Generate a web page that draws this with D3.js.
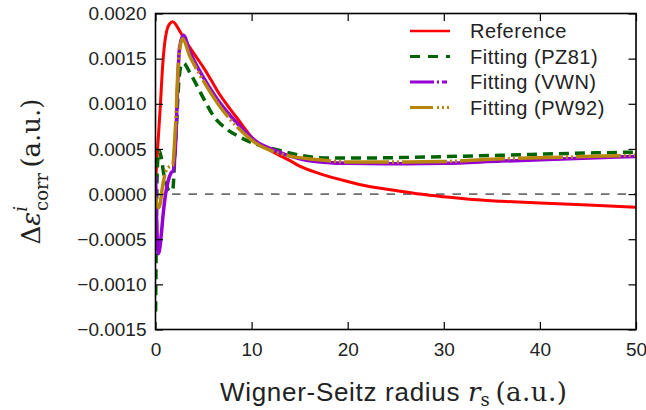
<!DOCTYPE html>
<html>
<head>
<meta charset="utf-8">
<script src="https://cdn.jsdelivr.net/npm/d3@7"></script>
<style>
    html, body { margin: 0; padding: 0; background: #fff; }
    svg { display: block; }
    .tick text { font-family: "Liberation Sans", Arial, sans-serif; font-size: 19px; fill: #222; }
</style>
</head>
<body>
<div id="chart"></div>
<script>
// data (rs in a.u., value in a.u.)
const refRs   = [0.02, 0.1, 0.2, 0.35, 0.5, 0.7, 0.9, 1.15, 1.5, 1.8, 2.1, 2.55, 3.0, 3.6, 4.3, 5.0, 5.8, 6.7, 7.5, 8.5, 10.2, 12.0, 14.0, 15.0, 17.0, 20.0, 22.0, 25.0, 27.5, 30.0, 33.0, 36.0, 40.0, 45.0, 50.0];
const refVals = [0.00015, 0.0003, 0.00047, 0.00072, 0.00097, 0.00135, 0.00162, 0.0018, 0.00189, 0.00191, 0.00188, 0.0018, 0.00172, 0.00162, 0.00151, 0.0014, 0.00126, 0.0011, 0.00098, 0.00084, 0.00061, 0.00048, 0.00037, 0.00031, 0.00023, 0.00014, 0.00009, 0.00004, 0.0, -0.00003, -0.00006, -0.00008, -0.0001, -0.00012, -0.000145];

const pz81Rs   = [0.01, 0.08, 0.15, 0.25, 0.4, 0.6, 0.9, 1.2, 1.5, 1.8, 2.0, 2.2, 2.4, 2.6, 2.9, 3.6, 5.0, 6.0, 7.4, 8.8, 10.5, 12.3, 15.0, 18.0, 22.0, 28.0, 36.0, 43.0, 50.0];
const pz81Vals = [-0.0013, -0.0005, 0.0001, 0.0004, 0.00048, 0.0004, 0.0002, 0.00008, 0.00003, 0.00005, 0.0004, 0.0008, 0.0012, 0.0014, 0.00145, 0.00134, 0.00106, 0.00087, 0.00072, 0.00063, 0.00055, 0.0005, 0.00043, 0.0004, 0.0004, 0.00041, 0.00043, 0.00045, 0.000465];

const vwnRs   = [0.01, 0.1, 0.2, 0.3, 0.45, 0.6, 0.8, 1.05, 1.33, 1.6, 1.85, 2.0, 2.15, 2.3, 2.5, 2.9, 3.6, 4.3, 5.0, 6.7, 8.45, 10.5, 12.3, 14.0, 16.0, 20.0, 25.0, 30.0, 36.0, 43.0, 50.0];
const vwnVals = [0.0002, -0.0002, -0.00055, -0.00066, -0.0006, -0.00045, -0.00022, 0.0, 0.00015, 0.00023, 0.00026, 0.0004, 0.0007, 0.0012, 0.00162, 0.00176, 0.00157, 0.00142, 0.00129, 0.00101, 0.00079, 0.00058, 0.00049, 0.00042, 0.00037, 0.00034, 0.000335, 0.00034, 0.000365, 0.00039, 0.000417];

const pw92Rs   = [0.01, 0.15, 0.35, 0.5, 0.7, 0.9, 1.1, 1.4, 1.8, 2.0, 2.15, 2.3, 2.5, 2.8, 3.6, 4.3, 5.0, 6.7, 8.45, 10.5, 12.3, 14.0, 17.0, 20.0, 25.0, 30.0, 36.0, 43.0, 50.0];
const pw92Vals = [-0.00003, -0.00012, -0.00015, -0.0001, 0.00006, 0.00018, 0.00026, 0.0003, 0.00032, 0.0006, 0.0009, 0.0013, 0.00158, 0.00172, 0.00152, 0.00138, 0.00125, 0.00097, 0.00075, 0.00056, 0.00047, 0.00042, 0.00038, 0.000355, 0.000355, 0.00036, 0.00039, 0.00041, 0.00043];

const xTicks = [0, 10, 20, 30, 40, 50];
const yTicks = [-0.0015, -0.0010, -0.0005, 0.0, 0.0005, 0.0010, 0.0015, 0.0020];

const series = [
    { name: 'Reference',      rs: refRs,  vals: refVals,  color: '#ff0000', width: 3,   dash: null,           legendDash: null },
    { name: 'Fitting (PZ81)', rs: pz81Rs, vals: pz81Vals, color: '#006400', width: 3.5, dash: '10,6',         legendDash: '10,8' },
    { name: 'Fitting (VWN)',  rs: vwnRs,  vals: vwnVals,  color: '#9400d3', width: 3.5, dash: null,           legendDash: '24,3,2,3,5,3' },
    { name: 'Fitting (PW92)', rs: pw92Rs, vals: pw92Vals, color: '#b8860b', width: 3.5, dash: '45,3,2,3,2,3', legendDash: '23,4,2,3,2,3,2' }
];

const width = 646, height = 410;
const margin = { top: 13.5, right: 10, bottom: 80.5, left: 155.5 };
const innerW = width - margin.left - margin.right;
const innerH = height - margin.top - margin.bottom;

const svg = d3.select('#chart').append('svg')
    .attr('width', width)
    .attr('height', height);

const x = d3.scaleLinear().domain([0, 50]).range([margin.left, margin.left + innerW]);
const y = d3.scaleLinear().domain([-0.0015, 0.0020]).range([margin.top + innerH, margin.top]);

svg.append('clipPath').attr('id', 'plotClip')
    .append('rect')
    .attr('x', margin.left).attr('y', margin.top)
    .attr('width', innerW).attr('height', innerH);

// zero line
svg.append('line')
    .attr('x1', x(0)).attr('x2', x(50))
    .attr('y1', y(0)).attr('y2', y(0))
    .attr('stroke', '#000')
    .attr('stroke-width', 1)
    .attr('stroke-dasharray', '8.5,8');

const line = d3.line()
    .x(d => x(d[0]))
    .y(d => y(d[1]))
    .curve(d3.curveMonotoneX);

const curves = svg.append('g').attr('clip-path', 'url(#plotClip)');
series.forEach(s => {
    const pts = s.rs.map((r, i) => [r, s.vals[i]]);
    curves.append('path')
        .datum(pts)
        .attr('d', line)
        .attr('fill', 'none')
        .attr('stroke', s.color)
        .attr('stroke-width', s.width)
        .attr('stroke-dasharray', s.dash)
        .attr('stroke-linejoin', 'round');
});

// axes, ticks pointing inward
const yFmt = d3.format('.4f');
svg.append('g')
    .attr('transform', `translate(${margin.left},0)`)
    .call(d3.axisLeft(y).tickValues(yTicks).tickFormat(yFmt).tickSize(-7.5).tickPadding(9))
    .call(g => g.select('.domain').remove());

svg.append('g')
    .attr('transform', `translate(0,${margin.top + innerH})`)
    .call(d3.axisBottom(x).tickValues(xTicks).tickFormat(d3.format('d')).tickSize(-7.5).tickPadding(13.5))
    .call(g => g.select('.domain').remove());

svg.append('g')
    .attr('transform', `translate(${margin.left + innerW},0)`)
    .call(d3.axisLeft(y).tickValues(yTicks).tickFormat('').tickSize(7.5))
    .call(g => g.select('.domain').remove());

svg.append('g')
    .attr('transform', `translate(0,${margin.top})`)
    .call(d3.axisBottom(x).tickValues(xTicks).tickFormat('').tickSize(7.5))
    .call(g => g.select('.domain').remove());

svg.selectAll('.tick line').attr('stroke', '#000').attr('stroke-width', 1.2);

svg.append('rect')
    .attr('x', margin.left).attr('y', margin.top)
    .attr('width', innerW).attr('height', innerH)
    .attr('fill', 'none')
    .attr('stroke', '#000')
    .attr('stroke-width', 1.6);

// x label
const xl = svg.append('text')
    .attr('x', x(25) - 2)
    .attr('y', 401)
    .attr('text-anchor', 'middle')
    .attr('fill', '#222')
    .style('font-family', '"Liberation Sans", Arial, sans-serif')
    .style('font-size', '26px');
xl.append('tspan').text('Wigner-Seitz radius ').style('letter-spacing', '0.7px');
xl.append('tspan').text('r')
    .style('font-family', '"DejaVu Serif", serif').style('font-style', 'italic');
xl.append('tspan').text('s').attr('dy', 5)
    .style('font-family', '"DejaVu Serif", serif').style('font-size', '18px');
xl.append('tspan').text('\u2009(a.u.)').attr('dy', -5)
    .style('font-family', '"DejaVu Serif", serif').style('letter-spacing', '0.5px');

// y label
const yl = svg.append('text')
    .attr('transform', `translate(40,${(margin.top + margin.top + innerH) / 2}) rotate(-90)`)
    .attr('text-anchor', 'middle')
    .attr('fill', '#222')
    .style('font-family', '"DejaVu Serif", serif')
    .style('font-size', '26px');
yl.append('tspan').text('\u0394');
yl.append('tspan').text('\u03b5').style('font-style', 'italic');
yl.append('tspan').text('i').attr('dy', -13).style('font-style', 'italic').style('font-size', '18px');
yl.append('tspan').text('corr').attr('dx', -5).attr('dy', 21).style('font-size', '18px');
yl.append('tspan').text('\u2009(a.u.)').attr('dy', -8);

// legend
const legend = svg.append('g');
series.forEach((s, i) => {
    const cy = 31 + i * 25.5;
    legend.append('line')
        .attr('x1', 410).attr('x2', 450)
        .attr('y1', cy).attr('y2', cy)
        .attr('stroke', s.color)
        .attr('stroke-width', s.width - 0.5)
        .attr('stroke-dasharray', s.legendDash);
    legend.append('text')
        .attr('x', 470)
        .attr('y', cy + 7)
        .attr('fill', '#222')
        .style('font-family', '"Liberation Sans", Arial, sans-serif')
        .style('font-size', '20px')
        .style('letter-spacing', '0.5px')
        .text(s.name);
});
</script>
</body>
</html>
